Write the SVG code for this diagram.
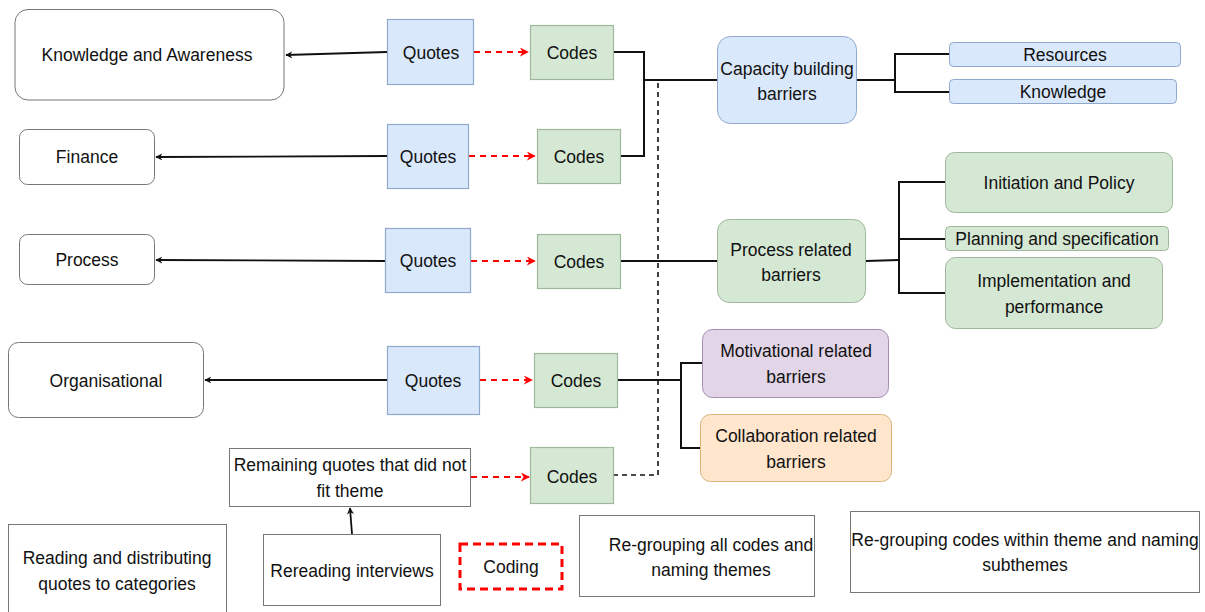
<svg xmlns="http://www.w3.org/2000/svg" width="1205" height="612" viewBox="0 0 1205 612">
  <style>
    text { font-family: "Liberation Sans", Arial, sans-serif; font-size: 17.5px; fill: #111; text-anchor: middle; }
    .cat { fill: #ffffff; stroke: #777; stroke-width: 1; }
    .step { fill: #ffffff; stroke: #777; stroke-width: 1; }
    .quote { fill: #dae8fc; stroke: #8fa8cc; stroke-width: 1.2; }
    .code { fill: #d5e8d4; stroke: #9fb79c; stroke-width: 1.2; }
    .blue { fill: #dae8fc; stroke: #8fa8cc; stroke-width: 1; }
    .green { fill: #d5e8d4; stroke: #9fb79c; stroke-width: 1; }
    .purple { fill: #e1d5e7; stroke: #a48eb2; stroke-width: 1; }
    .orange { fill: #ffe6cc; stroke: #d9b37a; stroke-width: 1; }
    .link { fill: none; stroke: #111; stroke-width: 2; }
    .solid { fill: none; stroke: #111; stroke-width: 1.8; }
    .coded { fill: none; stroke: #ff0000; stroke-width: 2; stroke-dasharray: 6 5; }
    .residual { fill: none; stroke: #111; stroke-width: 1.6; stroke-dasharray: 5 4; }
  </style>
  <defs>
    <marker id="blackHead" viewBox="0 0 10 10" refX="9" refY="5" markerWidth="7" markerHeight="7" markerUnits="userSpaceOnUse" orient="auto">
      <path d="M0,0 L10,5 L0,10 L3,5 Z" fill="#111"/>
    </marker>
    <marker id="redHead" viewBox="0 0 10 10" refX="9" refY="5" markerWidth="9" markerHeight="9" markerUnits="userSpaceOnUse" orient="auto">
      <path d="M0,0 L10,5 L0,10 L3,5 Z" fill="#ff0000"/>
    </marker>
  </defs>

  <!-- connectors -->
  <g id="connectors">
    <!-- quotes to categories -->
    <path class="solid" d="M387,52 L286,55" marker-end="url(#blackHead)"/>
    <path class="solid" d="M387,156 L156,157" marker-end="url(#blackHead)"/>
    <path class="solid" d="M385,261 L156,260" marker-end="url(#blackHead)"/>
    <path class="solid" d="M387,380 L205,380" marker-end="url(#blackHead)"/>
    <path class="solid" d="M352,534 L350,508" marker-end="url(#blackHead)"/>
    <!-- quotes to codes -->
    <path class="coded" d="M474,52 L528,52" marker-end="url(#redHead)"/>
    <path class="coded" d="M469,156 L535,156" marker-end="url(#redHead)"/>
    <path class="coded" d="M471,261 L535,261" marker-end="url(#redHead)"/>
    <path class="coded" d="M480,380 L532,380" marker-end="url(#redHead)"/>
    <path class="coded" d="M471,477 L529,477" marker-end="url(#redHead)"/>
    <!-- codes to themes -->
    <path class="link" d="M613,52 H644 V156 H620"/>
    <path class="link" d="M644,80 H717"/>
    <path class="link" d="M620,261 H717"/>
    <path class="link" d="M617,380 H681"/>
    <path class="link" d="M702,363 H681 V448 H700"/>
    <path class="residual" d="M613,475 H658 V80"/>
    <!-- themes to subthemes -->
    <path class="link" d="M857,80 H895"/>
    <path class="link" d="M949,54 H895 V92 H949"/>
    <path class="link" d="M866,261 L899,260"/>
    <path class="link" d="M945,182 H899 V293 H945"/>
    <path class="link" d="M899,239 H945"/>
  </g>

  <!-- categories -->
  <g id="knowledge-awareness">
    <rect class="cat" x="15" y="9.5" width="269" height="90.5" rx="13"/>
    <text x="147" y="61">Knowledge and Awareness</text>
  </g>
  <g id="finance">
    <rect class="cat" x="19.5" y="129.5" width="135" height="55" rx="8"/>
    <text x="87" y="163">Finance</text>
  </g>
  <g id="process">
    <rect class="cat" x="19.5" y="234.5" width="135" height="50" rx="8"/>
    <text x="87" y="266">Process</text>
  </g>
  <g id="organisational">
    <rect class="cat" x="8.5" y="342.5" width="195" height="75" rx="10"/>
    <text x="106" y="387">Organisational</text>
  </g>

  <!-- quotes -->
  <g id="quotes-1">
    <rect class="quote" x="387.5" y="19.5" width="86" height="65"/>
    <text x="431" y="59">Quotes</text>
  </g>
  <g id="quotes-2">
    <rect class="quote" x="387.5" y="124.5" width="81" height="64"/>
    <text x="428" y="163">Quotes</text>
  </g>
  <g id="quotes-3">
    <rect class="quote" x="385.5" y="228.5" width="85" height="64"/>
    <text x="428" y="267">Quotes</text>
  </g>
  <g id="quotes-4">
    <rect class="quote" x="387.5" y="346.5" width="92" height="68"/>
    <text x="433" y="387">Quotes</text>
  </g>
  <g id="remaining-quotes">
    <rect class="step" x="229.5" y="448.5" width="241" height="58"/>
    <text x="350" y="471">Remaining quotes that did not</text>
    <text x="350" y="497">fit theme</text>
  </g>

  <!-- codes -->
  <g id="codes-1">
    <rect class="code" x="530.5" y="25.5" width="83" height="54"/>
    <text x="572" y="59">Codes</text>
  </g>
  <g id="codes-2">
    <rect class="code" x="537.5" y="129.5" width="83" height="54"/>
    <text x="579" y="163">Codes</text>
  </g>
  <g id="codes-3">
    <rect class="code" x="537.5" y="234.5" width="83" height="54"/>
    <text x="579" y="268">Codes</text>
  </g>
  <g id="codes-4">
    <rect class="code" x="534.5" y="353.5" width="83" height="54"/>
    <text x="576" y="387">Codes</text>
  </g>
  <g id="codes-5">
    <rect class="code" x="530.5" y="447.5" width="83" height="56"/>
    <text x="572" y="483">Codes</text>
  </g>

  <!-- themes -->
  <g id="capacity-building">
    <rect class="blue" x="717.5" y="36.5" width="139" height="87" rx="13"/>
    <text x="787" y="75">Capacity building</text>
    <text x="787" y="100">barriers</text>
  </g>
  <g id="process-related">
    <rect class="green" x="717.5" y="219.5" width="148" height="83" rx="12"/>
    <text x="791" y="256">Process related</text>
    <text x="791" y="281">barriers</text>
  </g>
  <g id="motivational-related">
    <rect class="purple" x="702.5" y="329.5" width="186" height="68" rx="10"/>
    <text x="796" y="357">Motivational related</text>
    <text x="796" y="383">barriers</text>
  </g>
  <g id="collaboration-related">
    <rect class="orange" x="700.5" y="414.5" width="191" height="67" rx="10"/>
    <text x="796" y="442">Collaboration related</text>
    <text x="796" y="468">barriers</text>
  </g>

  <!-- subthemes -->
  <g id="resources">
    <rect class="blue" x="949.5" y="42.5" width="231" height="24" rx="4"/>
    <text x="1065" y="61">Resources</text>
  </g>
  <g id="knowledge">
    <rect class="blue" x="949.5" y="79.5" width="227" height="24" rx="4"/>
    <text x="1063" y="98">Knowledge</text>
  </g>
  <g id="initiation-policy">
    <rect class="green" x="945.5" y="152.5" width="227" height="60" rx="9"/>
    <text x="1059" y="189">Initiation and Policy</text>
  </g>
  <g id="planning-specification">
    <rect class="green" x="945.5" y="226.5" width="223" height="24" rx="4"/>
    <text x="1057" y="245">Planning and specification</text>
  </g>
  <g id="implementation-performance">
    <rect class="green" x="945.5" y="257.5" width="217" height="71" rx="10"/>
    <text x="1054" y="287">Implementation and</text>
    <text x="1054" y="313">performance</text>
  </g>

  <!-- method steps -->
  <g id="reading-distributing">
    <rect class="step" x="8.5" y="524.5" width="218" height="95"/>
    <text x="117" y="564">Reading and distributing</text>
    <text x="117" y="590">quotes to categories</text>
  </g>
  <g id="rereading-interviews">
    <rect class="step" x="263.5" y="534.5" width="177" height="71"/>
    <text x="352" y="577">Rereading interviews</text>
  </g>
  <g id="coding">
    <rect x="460" y="544" width="102" height="45" fill="#ffffff" stroke="#ff0000" stroke-width="3" stroke-dasharray="8 5"/>
    <text x="511" y="573">Coding</text>
  </g>
  <g id="regrouping-themes">
    <rect class="step" x="579.5" y="515.5" width="235" height="81"/>
    <text x="711" y="551">Re-grouping all codes and</text>
    <text x="711" y="576">naming themes</text>
  </g>
  <g id="regrouping-subthemes">
    <rect class="step" x="850.5" y="511.5" width="349" height="81"/>
    <text x="1025" y="546">Re-grouping codes within theme and naming</text>
    <text x="1025" y="571">subthemes</text>
  </g>
</svg>
